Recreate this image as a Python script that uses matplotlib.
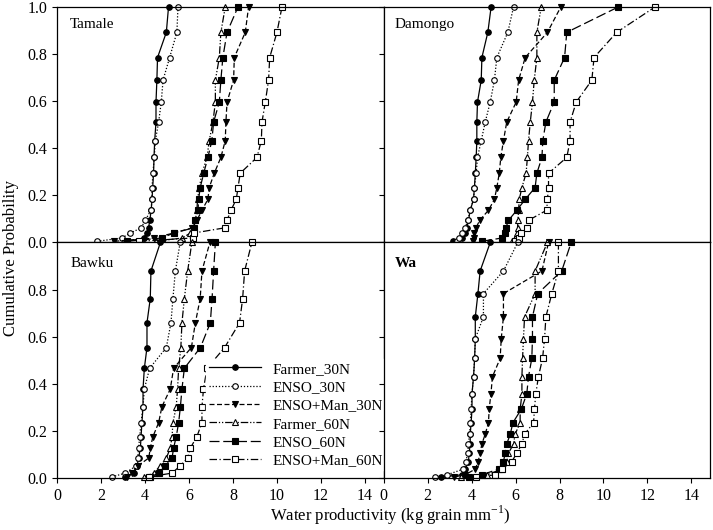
import matplotlib
matplotlib.use("Agg")
import matplotlib.pyplot as plt

plt.rcParams['font.family'] = ['Liberation Serif', 'DejaVu Serif']
plt.rcParams['mathtext.fontset'] = 'custom'
plt.rcParams['mathtext.rm'] = 'Liberation Serif'

series_names = ["Farmer_30N", "ENSO_30N", "ENSO+Man_30N", "Farmer_60N", "ENSO_60N", "ENSO+Man_60N"]

# cumulative probability levels (ascending)
prob_top = [0.005, 0.019, 0.040, 0.062, 0.094, 0.137, 0.183, 0.233, 0.294, 0.361, 0.432, 0.511, 0.596, 0.689, 0.785, 0.892, 1.0]
prob_bawku = [0.005, 0.021, 0.052, 0.085, 0.127, 0.176, 0.235, 0.303, 0.378, 0.466, 0.554, 0.659, 0.762, 0.879, 1.0]
prob_wa = [0.004, 0.014, 0.038, 0.070, 0.106, 0.145, 0.186, 0.235, 0.292, 0.357, 0.430, 0.508, 0.592, 0.684, 0.783, 0.879, 1.0]

# water productivity values (kg grain / mm), ascending
tamale_f30 = [3.18, 3.94, 4.09, 4.16, 4.22, 4.28, 4.32, 4.35, 4.39, 4.41, 4.44, 4.50, 4.50, 4.54, 4.57, 4.97, 5.07]
tamale_e30 = [1.82, 2.95, 3.33, 3.83, 4.01, 4.27, 4.32, 4.32, 4.36, 4.42, 4.47, 4.62, 4.74, 4.82, 5.12, 5.45, 5.50]
tamale_em30 = [2.60, 4.40, 5.30, 6.15, 6.36, 6.59, 6.86, 6.92, 7.15, 7.45, 7.65, 7.68, 7.73, 8.03, 8.06, 8.56, 8.71]
tamale_f60 = [4.50, 5.70, 6.06, 6.21, 6.29, 6.36, 6.39, 6.47, 6.59, 6.82, 6.92, 7.09, 7.20, 7.20, 7.38, 7.45, 7.65]
tamale_e60 = [3.18, 4.77, 5.30, 6.21, 6.29, 6.41, 6.44, 6.51, 6.67, 6.86, 7.04, 7.12, 7.38, 7.45, 7.54, 7.73, 8.23]
tamale_em60 = [3.71, 6.17, 6.21, 7.62, 7.73, 7.91, 8.15, 8.23, 8.33, 9.09, 9.29, 9.32, 9.47, 9.62, 9.67, 10.00, 10.23]

damongo_f30 = [3.15, 3.56, 3.71, 3.79, 3.86, 3.94, 4.09, 4.13, 4.17, 4.21, 4.24, 4.24, 4.27, 4.44, 4.47, 4.74, 4.89]
damongo_e30 = [3.33, 3.44, 3.56, 3.71, 3.83, 3.94, 4.09, 4.13, 4.21, 4.27, 4.44, 4.62, 4.85, 5.04, 5.15, 5.65, 5.91]
damongo_em30 = [4.06, 4.10, 4.13, 4.20, 4.37, 4.77, 5.04, 5.15, 5.26, 5.33, 5.45, 5.60, 6.03, 6.14, 6.44, 7.45, 8.06]
damongo_f60 = [5.83, 5.98, 6.06, 6.09, 6.11, 6.14, 6.17, 6.29, 6.48, 6.54, 6.59, 6.67, 6.77, 6.85, 6.97, 6.97, 7.17]
damongo_e60 = [4.47, 5.38, 5.50, 5.56, 5.68, 6.06, 6.44, 6.89, 6.97, 7.20, 7.24, 7.38, 7.76, 7.76, 8.23, 8.33, 10.68]
damongo_em60 = [5.98, 6.14, 6.26, 6.54, 6.59, 7.42, 7.45, 7.50, 7.50, 8.33, 8.48, 8.48, 8.76, 9.47, 9.57, 10.60, 12.35]

bawku_f30 = [3.10, 3.48, 3.64, 3.71, 3.79, 3.82, 3.86, 3.91, 3.91, 3.97, 4.09, 4.09, 4.24, 4.27, 4.70]
bawku_e30 = [2.50, 3.10, 3.60, 3.67, 3.71, 3.76, 3.82, 3.91, 3.97, 4.21, 4.97, 5.18, 5.27, 5.38, 5.60]
bawku_em30 = [3.20, 3.41, 3.68, 4.17, 4.24, 4.36, 4.62, 4.77, 5.15, 5.30, 6.11, 6.29, 6.51, 6.59, 6.95]
bawku_f60 = [3.94, 4.39, 4.70, 4.97, 5.15, 5.23, 5.27, 5.42, 5.48, 5.53, 5.63, 5.68, 5.79, 5.94, 6.13]
bawku_e60 = [4.24, 4.62, 4.92, 5.23, 5.30, 5.42, 5.53, 5.61, 5.68, 5.79, 6.52, 6.97, 7.05, 7.12, 7.20]
bawku_em60 = [4.17, 5.23, 5.60, 5.94, 6.06, 6.36, 6.59, 6.59, 6.66, 6.82, 7.62, 8.30, 8.44, 8.53, 8.86]

wa_f30 = [2.60, 3.56, 3.71, 3.86, 3.89, 3.94, 3.94, 3.98, 4.02, 4.02, 4.09, 4.14, 4.17, 4.17, 4.29, 4.39, 4.85]
wa_e30 = [2.35, 2.88, 3.63, 3.74, 3.83, 3.86, 3.91, 3.94, 3.98, 4.02, 4.09, 4.14, 4.17, 4.54, 4.54, 5.45, 6.10]
wa_em30 = [3.20, 3.71, 4.17, 4.30, 4.39, 4.47, 4.62, 4.77, 4.80, 4.88, 4.95, 5.30, 5.35, 5.45, 5.45, 7.20, 7.50]
wa_f60 = [3.50, 4.70, 5.38, 5.60, 5.68, 5.91, 5.98, 6.21, 6.21, 6.29, 6.29, 6.32, 6.36, 6.41, 6.89, 6.89, 7.45]
wa_e60 = [3.90, 4.47, 5.23, 5.45, 5.53, 5.60, 5.76, 5.88, 6.26, 6.51, 6.59, 6.74, 6.77, 6.77, 7.01, 8.10, 8.53]
wa_em60 = [4.20, 5.07, 5.38, 5.83, 6.06, 6.29, 6.41, 6.82, 6.86, 6.92, 7.04, 7.23, 7.32, 7.38, 7.65, 7.95, 7.95]

panels = [
    ("Tamale", prob_top, [tamale_f30, tamale_e30, tamale_em30, tamale_f60, tamale_e60, tamale_em60]),
    ("Damongo", prob_top, [damongo_f30, damongo_e30, damongo_em30, damongo_f60, damongo_e60, damongo_em60]),
    ("Bawku", prob_bawku, [bawku_f30, bawku_e30, bawku_em30, bawku_f60, bawku_e60, bawku_em60]),
    ("Wa", prob_wa, [wa_f30, wa_e30, wa_em30, wa_f60, wa_e60, wa_em60]),
]

styles = [
    dict(linestyle='-', marker='o', mfc='black'),
    dict(linestyle=(0, (1, 1.5)), marker='o', mfc='white'),
    dict(linestyle=(0, (4, 2)), marker='v', mfc='black'),
    dict(linestyle=(0, (6, 1.5, 1, 1.5, 1, 1.5)), marker='^', mfc='white'),
    dict(linestyle=(0, (8, 3)), marker='s', mfc='black'),
    dict(linestyle=(0, (6, 2, 1, 2)), marker='s', mfc='white'),
]

fig, axes = plt.subplots(2, 2, figsize=(7.13, 5.30), dpi=100)
fig.subplots_adjust(left=0.080, right=0.996, top=0.987, bottom=0.098, wspace=0, hspace=0)

for k, (ax, (name, prob, data)) in enumerate(zip(axes.flat, panels)):
    for vals, lab, st in zip(data, series_names, styles):
        ax.plot(vals, prob, color='black', lw=0.9, ms=4, mec='black', mew=0.8,
                label=lab, clip_on=False, **st)
    ax.set_xlim(0, 14.85)
    ax.set_ylim(0, 1.0)
    ax.set_xticks(range(0, 15, 2))
    row, col = divmod(k, 2)
    if row == 0:
        ax.set_yticks([0, 0.2, 0.4, 0.6, 0.8, 1.0])
    else:
        ax.set_yticks([0, 0.2, 0.4, 0.6, 0.8])
    ax.tick_params(direction='out', length=3.5, width=0.8, labelsize=11.5,
                   labelleft=(col == 0), labelbottom=(row == 1))
    ax.yaxis.set_major_formatter(matplotlib.ticker.FormatStrFormatter('%.1f'))
    for sp in ax.spines.values():
        sp.set_linewidth(0.9)
    ax.text(0.04 if col == 0 else 0.034, 0.925 if row == 0 else 0.91, name,
            transform=ax.transAxes, fontsize=11, va='center',
            fontweight='bold' if name == "Wa" else 'normal')

leg = axes[1, 0].legend(loc='upper left', bbox_to_anchor=(0.455, 0.505), fontsize=11,
                        handlelength=3.4, handletextpad=0.8, labelspacing=0.3,
                        borderpad=0.2, borderaxespad=0, frameon=True, fancybox=False)
leg.get_frame().set_edgecolor('white')
leg.get_frame().set_facecolor('white')
leg.get_frame().set_alpha(1)

fig.text(0.547, 0.028, r'Water productivity (kg grain mm$^{-1}$)', ha='center', va='center', fontsize=12)
fig.text(0.015, 0.513, 'Cumulative Probability', rotation=90, ha='center', va='center', fontsize=12)

fig.savefig("out.png", dpi=100)
